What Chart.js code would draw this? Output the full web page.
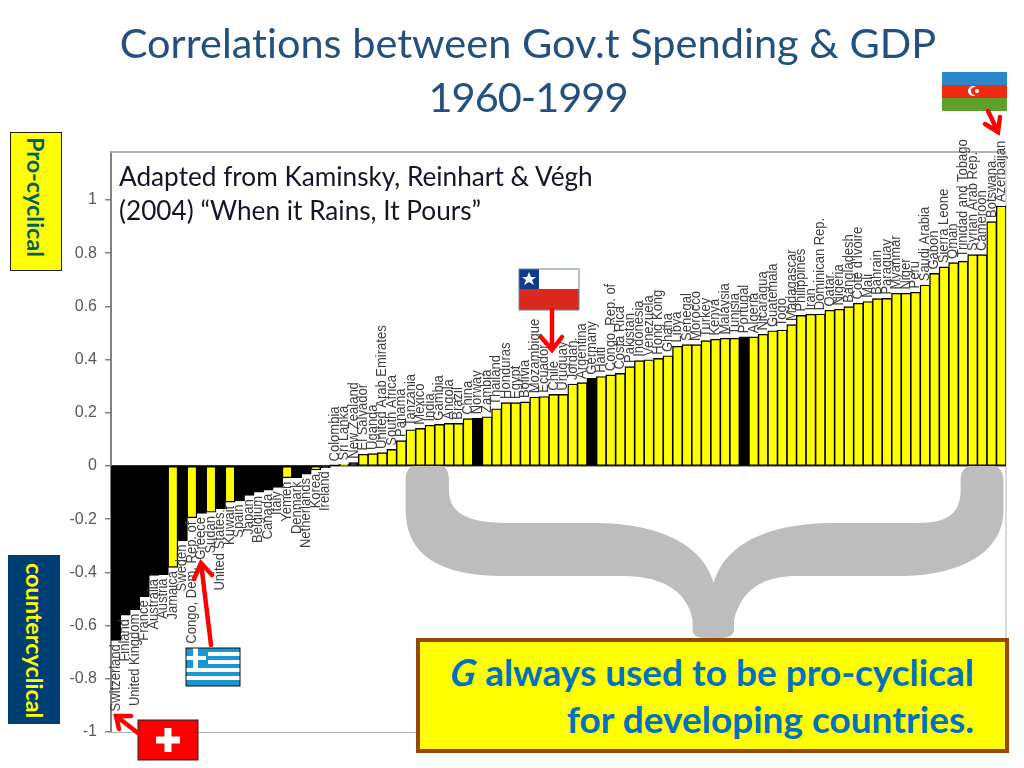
<!DOCTYPE html>
<html lang="en">
<head>
<meta charset="UTF-8">
<title>Correlations between Gov.t Spending & GDP</title>
<script src="https://cdn.jsdelivr.net/npm/chart.js"></script>
<style>
    html, body { margin: 0; padding: 0; background: #fff; }
    body { width: 1024px; height: 768px; position: relative; overflow: hidden; font-family: Lato, sans-serif; font-variant-ligatures: none; }
    canvas { position: absolute; left: 0; top: 0; }
    svg { position: absolute; left: 0; top: 0; }
    .title { position: absolute; left: 20px; width: 1016px; text-align: center; color: #24507f; font-size: 41.5px; line-height: 54px; top: 15px; }
    .title span { letter-spacing: -1px; }
    .note { position: absolute; left: 119px; top: 159px; font-size: 26.2px; line-height: 34px; color: #14142a; white-space: nowrap; }
    .side { position: absolute; writing-mode: vertical-rl; text-align: center; font-weight: bold; font-size: 23.4px; box-sizing: border-box; }
    #pro { left: 10px; top: 132px; width: 52px; height: 139px; background: #ffff00; border: 1px solid #222; color: #00605f; line-height: 50px; padding-bottom: 8px; }
    #counter { left: 8px; top: 555px; width: 52px; height: 169px; background: #003f73; color: #ffff00; line-height: 50px; padding-top: 3px; }
    .callout { position: absolute; left: 416px; top: 638px; width: 593px; height: 115px; box-sizing: border-box; background: #ffff00; border: 4px solid #974706; color: #0070c0; font-weight: bold; font-size: 37px; line-height: 47px; text-align: right; padding: 6px 31px 0 0; white-space: nowrap; }
    .callout i { display: inline-block; transform: skewX(-8deg); }
</style>
</head>
<body>
<canvas id="chart" width="1024" height="768"></canvas>

<svg width="1024" height="768" xmlns="http://www.w3.org/2000/svg">
    <!-- brace -->
    <path fill="#bdbdbd" d="M405.6 480 C405.6 470 410 466 416 466 L440 466 C446 466 449 472 449 480 L449 490 C449 515 470 523 510 523 L594 523 C660 523 703 545 713.6 583 C724 545 767 523 833 523 L916 523 C946 523 960.6 515 960.6 490 L960.6 480 C960.6 470 966 466 972 466 L993 466 C999 466 1003.5 472 1003.5 480 L1003.5 510 C1003.5 555 956 576 900 576 L797 576 C757 576 740 595 734 620 L734 630 C734 635 728 638 722 638 L705 638 C697 638 692.6 635 692.6 630 L692.6 620 C688 595 668 576 622 576 L503 576 C440 576 405.6 555 405.6 510 Z"/>
    <!-- Azerbaijan -->
    <rect x="942" y="72" width="65" height="13" fill="#2a86c8"/>
    <rect x="942" y="85" width="65" height="13" fill="#ee2a10"/>
    <rect x="942" y="98" width="65" height="13" fill="#5f9f2c"/>
    <circle cx="973" cy="91" r="5" fill="#fff"/>
    <circle cx="975" cy="91" r="4" fill="#ee2a10"/>
    <circle cx="977" cy="91" r="2" fill="#fff"/>
    <!-- Chile -->
    <rect x="519" y="269" width="60" height="20" fill="#fff"/>
    <rect x="519" y="289" width="60" height="21" fill="#d9291c"/>
    <rect x="519" y="269" width="20" height="20" fill="#0f3d8c"/>
    <polygon fill="#fff" points="529,272 531,277 536,277 532,280 534,285 529,282 524,285 526,280 522,277 527,277"/>
    <rect x="519" y="269" width="60" height="41" fill="none" stroke="#6c7fb0" stroke-width="1"/>
    <!-- Greece -->
    <rect x="186" y="648" width="54" height="38" fill="#1a96d4"/>
    <g fill="#fff">
        <rect x="208" y="652" width="32" height="4"/>
        <rect x="208" y="660" width="32" height="4"/>
        <rect x="186" y="668" width="54" height="4"/>
        <rect x="186" y="676" width="54" height="4"/>
        <rect x="193" y="648" width="5" height="20"/>
        <rect x="186" y="656" width="20" height="4"/>
    </g>
    <rect x="186" y="648" width="54" height="38" fill="none" stroke="#111" stroke-width="1"/>
    <!-- Switzerland -->
    <rect x="138" y="720" width="60" height="40" fill="#ff0000" stroke="#222" stroke-width="1"/>
    <rect x="164.500" y="728" width="7" height="24" fill="#fff"/>
    <rect x="156" y="736.500" width="24" height="7" fill="#fff"/>
    <!-- arrows -->
    <g stroke="#ff0000" fill="none" stroke-linecap="round" stroke-linejoin="miter" stroke-width="4.500">
        <path d="M988 111 L998 132 M985 124 L998 132 L1000 117"/>
        <path d="M552 310 L552 350 M541 337 L552 350 L562 337"/>
        <path d="M211 645 L201 563 M194 579 L201 563 L212 575"/>
        <path d="M138 733 L116 716 M119 729 L116 716 L131 716"/>
    </g>
</svg>

<div class="title">Correlations between Gov.t Spending &amp; GDP<br><span>1960-1999</span></div>
<div class="note">Adapted from Kaminsky, Reinhart &amp; Végh<br>(2004) “When it Rains, It Pours”</div>
<div class="side" id="pro">Pro-cyclical</div>
<div class="side" id="counter">countercyclical</div>
<div class="callout"><i>G</i> always used to be pro-cyclical<br>for developing countries.</div>

<script>
const countries = [
    'Switzerland', 'Finland', 'United Kingdom', 'France', 'Australia', 'Austria', 'Jamaica', 'Sweden',
    'Congo, Dem. Rep. of', 'Greece', 'Sudan', 'United States', 'Kuwait', 'Spain', 'Japan', 'Belgium',
    'Canada', 'Italy', 'Yemen', 'Denmark', 'Netherlands', 'Korea', 'Ireland',
    'Colombia', 'Sri Lanka', 'New Zealand', 'El Salvador', 'Uganda', 'United Arab Emirates', 'South Africa',
    'Panama', 'Tanzania', 'Mexico', 'India', 'Gambia', 'Angola', 'Brazil', 'China', 'Norway', 'Zambia',
    'Thailand', 'Honduras', 'Egypt', 'Bolivia', 'Mozambique', 'Ecuador', 'Chile', 'Uruguay', 'Jordan',
    'Argentina', 'Germany', 'Haiti', 'Congo, Rep. of', 'Costa Rica', 'Pakistan', 'Indonesia', 'Venezuela',
    'Hong Kong', 'Ghana', 'Libya', 'Senegal', 'Morocco', 'Turkey', 'Kenya', 'Malaysia', 'Tunisia', 'Portugal',
    'Algeria', 'Nicaragua', 'Guatemala', 'Togo', 'Madagascar', 'Philippines', 'Iran', 'Dominican Rep.',
    'Qatar', 'Nigeria', 'Bangladesh', "Cote d'Ivoire", 'Mali', 'Bahrain', 'Paraguay', 'Myanmar', 'Niger',
    'Peru', 'Saudi Arabia', 'Gabon', 'Sierra Leone', 'Oman', 'Trinidad and Tobago', 'Syrian Arab Rep.',
    'Cameroon', 'Botswana', 'Azerbaijan'
];

const correlations = [
    -0.655, -0.56, -0.54, -0.49, -0.41, -0.408, -0.38, -0.28,
    -0.194, -0.177, -0.173, -0.16, -0.135, -0.13, -0.11, -0.098,
    -0.09, -0.08, -0.044, -0.043, -0.03, -0.014, -0.005,
    0.002, 0.005, 0.012, 0.043, 0.045, 0.049, 0.061,
    0.094, 0.135, 0.14, 0.152, 0.155, 0.159, 0.159, 0.177, 0.179, 0.184,
    0.214, 0.237, 0.237, 0.24, 0.258, 0.26, 0.268, 0.268, 0.307,
    0.312, 0.328, 0.335, 0.341, 0.347, 0.372, 0.395, 0.398,
    0.403, 0.413, 0.449, 0.455, 0.455, 0.47, 0.475, 0.479, 0.479, 0.484,
    0.484, 0.494, 0.507, 0.51, 0.53, 0.565, 0.569, 0.57,
    0.584, 0.588, 0.598, 0.611, 0.617, 0.628, 0.629, 0.648, 0.648,
    0.652, 0.679, 0.723, 0.747, 0.763, 0.769, 0.793,
    0.793, 0.917, 0.976
];

// the bars drawn in yellow on the negative side; industrial ones are black
const developingNegative = ['Jamaica', 'Congo, Dem. Rep. of', 'Sudan', 'Kuwait', 'Yemen', 'Korea'];
const industrialPositive = ['Colombia', 'New Zealand', 'Norway', 'Germany', 'Portugal'];

const yTicks = [1, 0.8, 0.6, 0.4, 0.2, 0, -0.2, -0.4, -0.6, -0.8, -1];

function barColor(name, i) {
    if (correlations[i] < 0) return developingNegative.includes(name) ? '#ffff00' : '#000000';
    return industrialPositive.includes(name) ? '#000000' : '#ffff00';
}

const framePlugin = {
    id: 'frame',
    beforeDatasetsDraw(chart) {
        const { ctx, chartArea: a } = chart;
        ctx.save();
        ctx.strokeStyle = '#b4b4b4';
        ctx.lineWidth = 2;
        ctx.beginPath();
        ctx.moveTo(a.left, a.top);
        ctx.lineTo(a.right, a.top);
        ctx.stroke();
        ctx.lineWidth = 1;
        ctx.beginPath();
        ctx.moveTo(a.right, a.top);
        ctx.lineTo(a.right, a.bottom);
        ctx.stroke();
        ctx.restore();
    }
};

// country names stand vertically against the end of each bar
const barLabels = {
    id: 'barLabels',
    afterDatasetsDraw(chart) {
        const { ctx, scales } = chart;
        ctx.save();
        ctx.font = '13px "Liberation Sans", Arial, sans-serif';
        ctx.fillStyle = '#3f3f3f';
        ctx.textBaseline = 'middle';
        countries.forEach((name, i) => {
            const v = correlations[i];
            const px = scales.x.getPixelForValue(i);
            const py = scales.y.getPixelForValue(v);
            ctx.save();
            ctx.translate(px, v < 0 ? py + 4 : py - 4);
            ctx.rotate(-Math.PI / 2);
            ctx.scale(1, 1.08);
            ctx.textAlign = v < 0 ? 'right' : 'left';
            ctx.fillText(name, 0, 0);
            ctx.restore();
        });
        ctx.restore();
    }
};

new Chart(document.getElementById('chart').getContext('2d'), {
    type: 'bar',
    data: {
        labels: countries,
        datasets: [{
            data: correlations,
            backgroundColor: countries.map(barColor),
            borderColor: '#000000',
            borderWidth: 1.4,
            borderSkipped: false,
            inflateAmount: 0.6,
            barPercentage: 1,
            categoryPercentage: 1
        }]
    },
    options: {
        responsive: false,
        animation: false,
        layout: { padding: { left: 60, right: 18, top: 152, bottom: 36 } },
        plugins: { legend: { display: false }, tooltip: { enabled: false }, title: { display: false } },
        scales: {
            x: {
                afterFit(scale) { scale.height = 0; },
                ticks: { display: false },
                grid: { display: false },
                border: { color: '#b4b4b4', width: 1 }
            },
            y: {
                min: -1,
                max: 1.18,
                afterFit(scale) { scale.width = 51; },
                afterBuildTicks(scale) { scale.ticks = yTicks.map(v => ({ value: v })); },
                ticks: {
                    color: '#595959',
                    padding: 8,
                    font: { family: '"Liberation Sans", Arial, sans-serif', size: 16 },
                    callback: v => String(v)
                },
                grid: {
                    color: ctx => ctx.tick && ctx.tick.value === 0 ? '#333333' : 'transparent',
                    tickColor: '#808080',
                    tickLength: 6,
                    lineWidth: 1.5
                },
                border: { color: '#808080', width: 2 }
            }
        }
    },
    plugins: [framePlugin, barLabels]
});
</script>
</body>
</html>
